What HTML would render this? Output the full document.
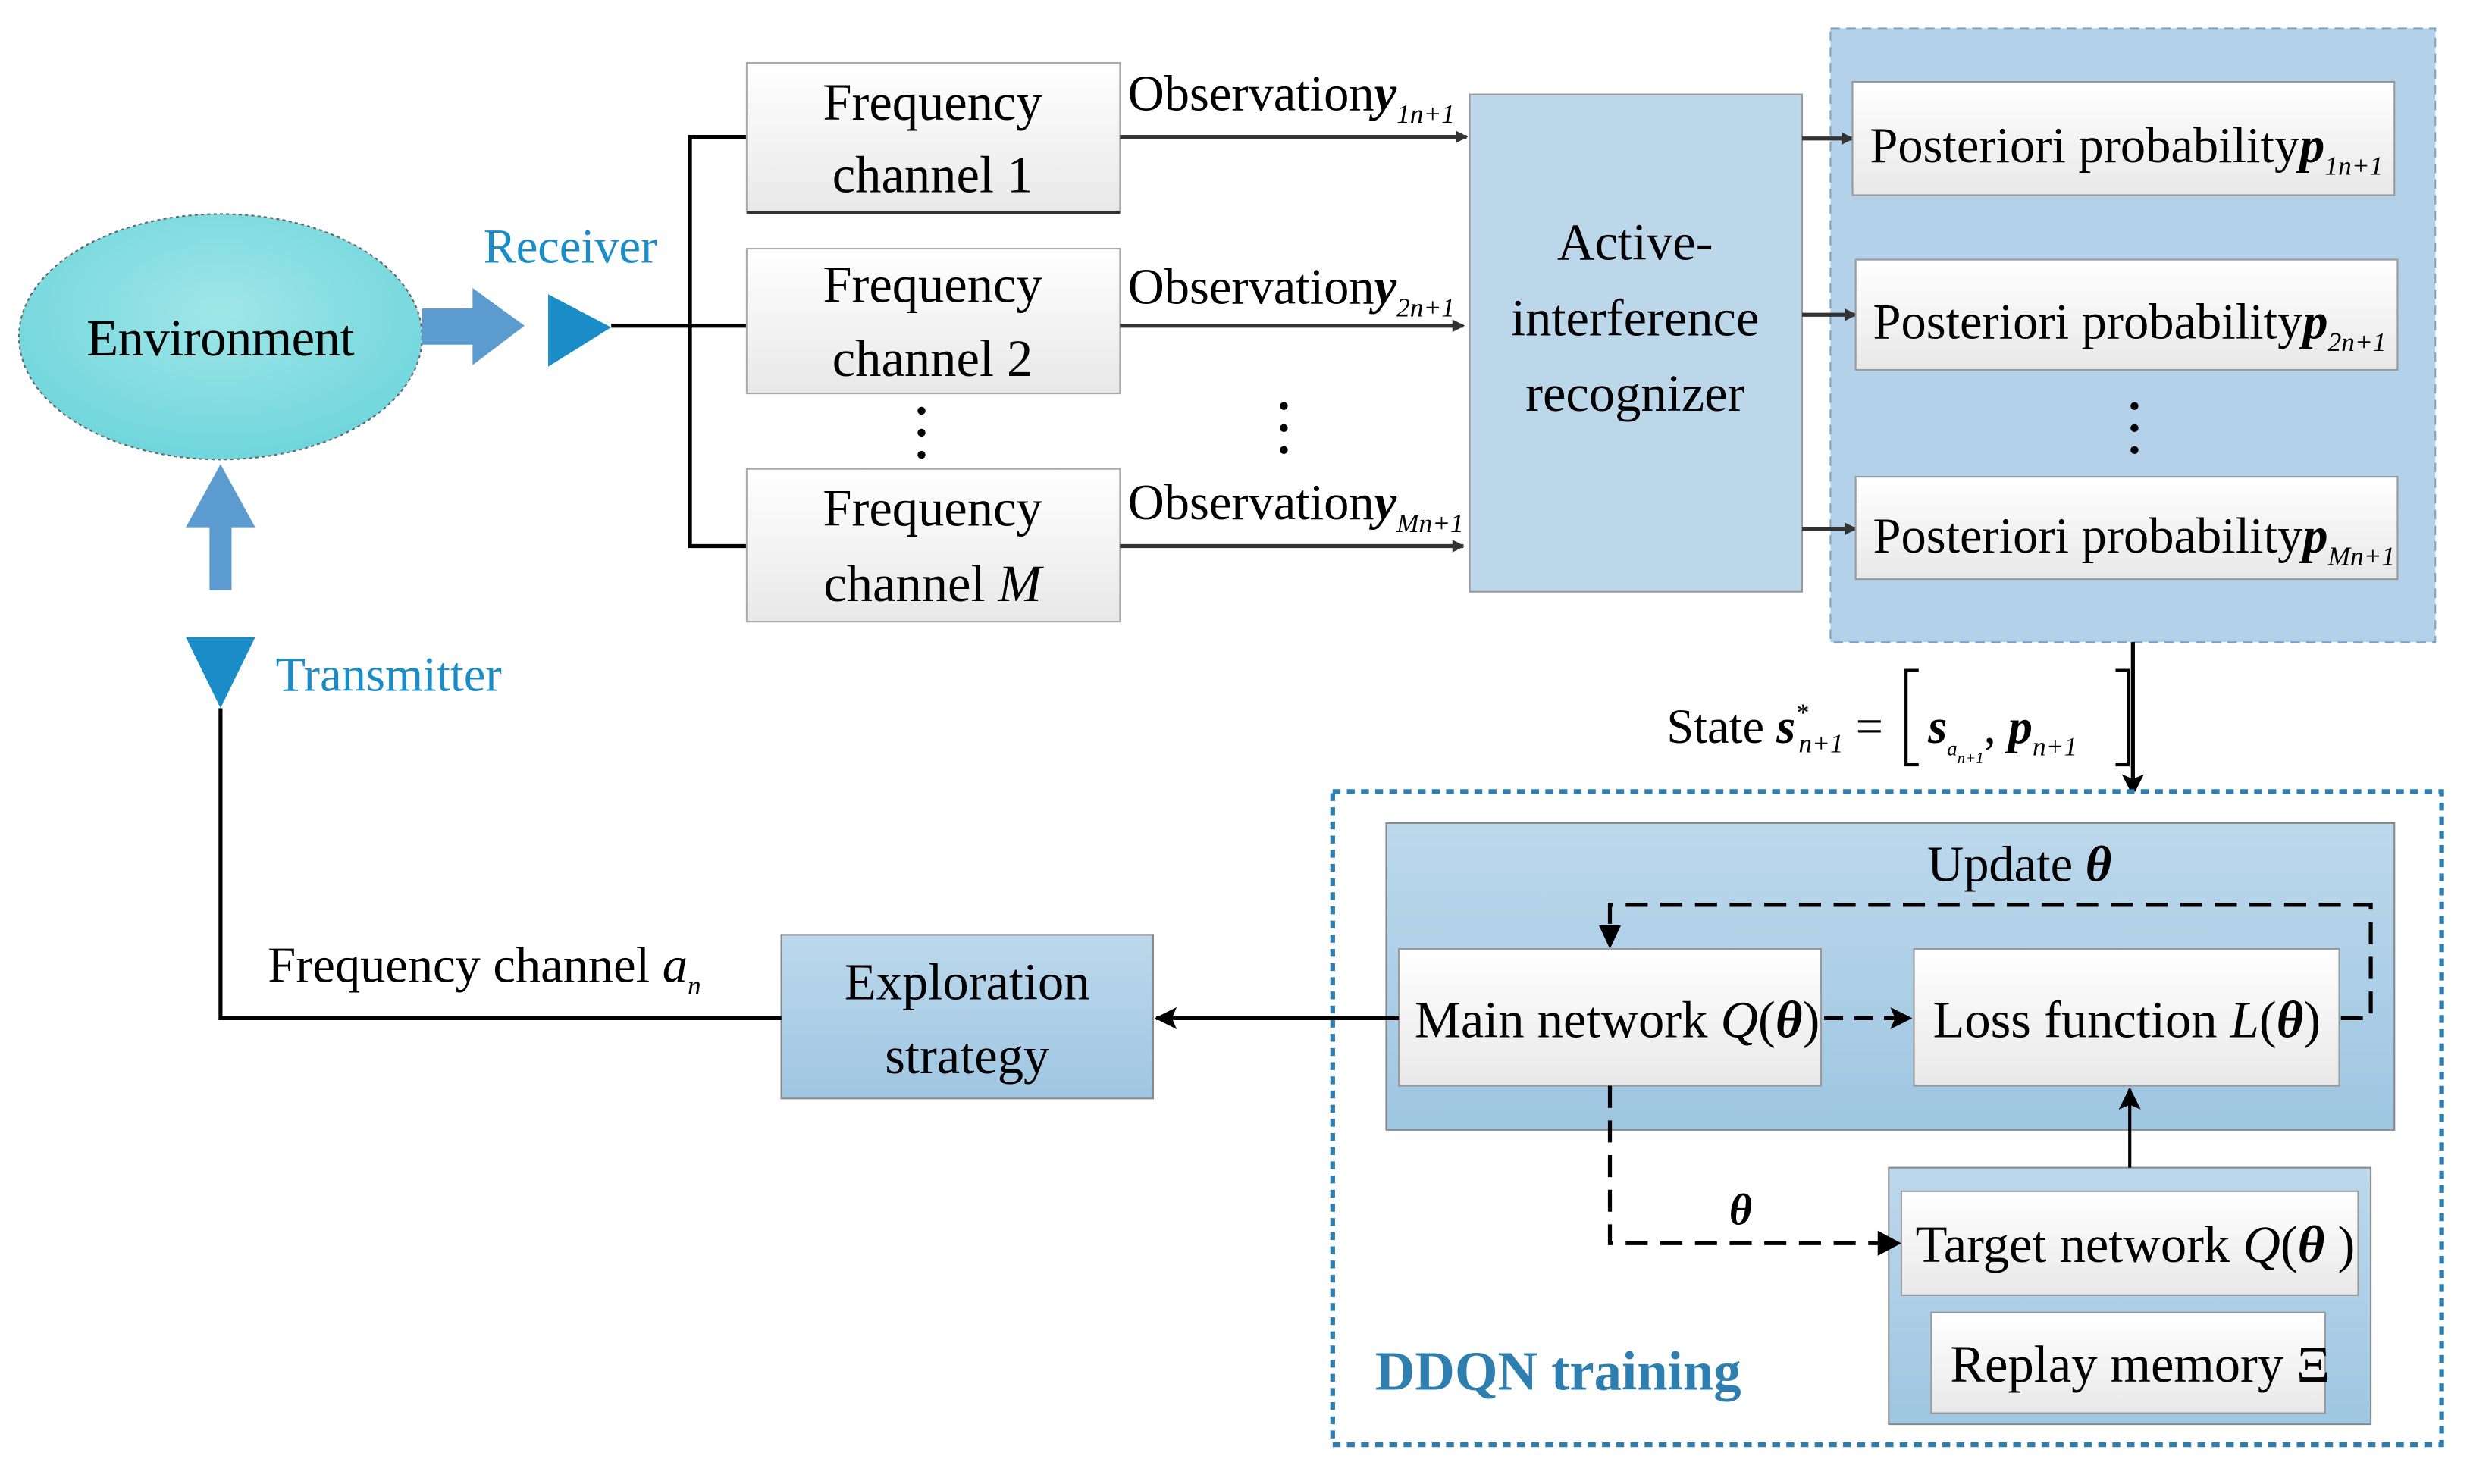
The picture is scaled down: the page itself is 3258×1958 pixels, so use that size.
<!DOCTYPE html>
<html><head><meta charset="utf-8"><style>html,body{margin:0;padding:0;background:#fff}svg{display:block;font-family:"Liberation Serif",serif}</style></head><body>
<svg width="3258" height="1958" viewBox="0 0 1568 943" preserveAspectRatio="none" xmlns="http://www.w3.org/2000/svg" style="font-family:'Liberation Serif',serif">
<defs>
<linearGradient id="gw" x1="0" y1="0" x2="0" y2="1"><stop offset="0" stop-color="#ffffff"/><stop offset="1" stop-color="#e8e8e8"/></linearGradient>
<linearGradient id="gb" x1="0" y1="0" x2="0" y2="1"><stop offset="0" stop-color="#bcd8ec"/><stop offset="1" stop-color="#9fc6e2"/></linearGradient>
<radialGradient id="ge" cx="0.5" cy="0.4" r="0.6"><stop offset="0" stop-color="#a0e6e8"/><stop offset="1" stop-color="#6fd6dc"/></radialGradient>
<marker id="ah" markerWidth="8" markerHeight="8" refX="7" refY="4" orient="auto" markerUnits="userSpaceOnUse"><path d="M0,0 L8,4 L0,8 Z" fill="#333"/></marker>
<marker id="ahk" markerWidth="14" markerHeight="14" refX="13" refY="7" orient="auto" markerUnits="userSpaceOnUse"><path d="M0,0 L14,7 L0,14 L3,7 Z" fill="#000"/></marker>
</defs>
<rect width="1568" height="943" fill="#fff"/>
<ellipse cx="140" cy="214" rx="128" ry="78" fill="url(#ge)" stroke="#666" stroke-dasharray="2,2"/>
<text x="140" y="226" font-size="33" text-anchor="middle" textLength="170">Environment</text>
<path d="M268,196 L300,196 L300,183 L333,207 L300,232 L300,219 L268,219 Z" fill="#5b9bd0"/>
<path d="M348,187 L388,208 L348,233 Z" fill="#1a8cc8"/>
<text x="362" y="167" font-size="31" fill="#1a8cc8" text-anchor="middle">Receiver</text>
<path d="M133,375 L133,335 L118,335 L140,295 L162,335 L147,335 L147,375 Z" fill="#5b9bd0"/>
<path d="M118,405 L162,405 L140,450 Z" fill="#1a8cc8"/>
<text x="175" y="439" font-size="31" fill="#1a8cc8">Transmitter</text>
<g stroke="#000" stroke-width="2.5" fill="none">
<path d="M388,207 L474,207"/><path d="M474,87 L438,87 L438,347 L474,347"/>
</g>
<g stroke="#aaa" fill="url(#gw)">
<rect x="474" y="40" width="237" height="95"/><rect x="474" y="158" width="237" height="92"/><rect x="474" y="298" width="237" height="97"/>
</g>
<line x1="474" y1="135" x2="711" y2="135" stroke="#333" stroke-width="2"/>
<g font-size="33" text-anchor="middle">
<text x="592" y="76">Frequency</text><text x="592" y="122">channel 1</text>
<text x="592" y="192">Frequency</text><text x="592" y="239">channel 2</text>
<text x="592" y="334">Frequency</text><text x="592" y="382">channel <tspan font-style="italic">M</tspan></text>
</g>
<g stroke="#333" stroke-width="2.5" marker-end="url(#ah)">
<line x1="711" y1="87" x2="931" y2="87"/><line x1="711" y1="207" x2="929" y2="207"/><line x1="711" y1="347" x2="929" y2="347"/>
</g>
<g font-size="32">
<text x="716" y="70">Observation<tspan font-style="italic" font-weight="bold">y</tspan><tspan font-size="17" font-style="italic" dy="8">1n+1</tspan></text>
<text x="716" y="193">Observation<tspan font-style="italic" font-weight="bold">y</tspan><tspan font-size="17" font-style="italic" dy="8">2n+1</tspan></text>
<text x="716" y="330">Observation<tspan font-style="italic" font-weight="bold">y</tspan><tspan font-size="17" font-style="italic" dy="8">Mn+1</tspan></text>
</g>
<rect x="933" y="60" width="211" height="316" fill="#bcd7ea" stroke="#999"/>
<g font-size="33" text-anchor="middle"><text x="1038" y="165">Active-</text><text x="1038" y="213">interference</text><text x="1038" y="261">recognizer</text></g>
<rect x="1162" y="18" width="384" height="390" fill="#b3d1e8" stroke="#7aa5c7" stroke-dasharray="6,4"/>
<g stroke="#333" stroke-width="2.5" marker-end="url(#ah)">
<line x1="1144" y1="88" x2="1176" y2="88"/><line x1="1144" y1="200" x2="1178" y2="200"/><line x1="1144" y1="336" x2="1178" y2="336"/>
</g>
<g stroke="#999" fill="url(#gw)">
<rect x="1176" y="52" width="344" height="72"/><rect x="1178" y="165" width="344" height="70"/><rect x="1178" y="303" width="344" height="65"/>
</g>
<g font-size="32">
<text x="1187" y="103">Posteriori probability<tspan font-style="italic" font-weight="bold">p</tspan><tspan font-size="17" font-style="italic" dy="8">1n+1</tspan></text>
<text x="1189" y="215">Posteriori probability<tspan font-style="italic" font-weight="bold">p</tspan><tspan font-size="17" font-style="italic" dy="8">2n+1</tspan></text>
<text x="1189" y="351">Posteriori probability<tspan font-style="italic" font-weight="bold">p</tspan><tspan font-size="17" font-style="italic" dy="8">Mn+1</tspan></text>
</g>
<g fill="#000"><circle cx="585" cy="261" r="2.5"/><circle cx="585" cy="275" r="2.5"/><circle cx="585" cy="289" r="2.5"/>
<circle cx="815" cy="258" r="2.5"/><circle cx="815" cy="272" r="2.5"/><circle cx="815" cy="286" r="2.5"/>
<circle cx="1355" cy="258" r="2.5"/><circle cx="1355" cy="272" r="2.5"/><circle cx="1355" cy="286" r="2.5"/></g>
<line x1="1354" y1="408" x2="1354" y2="505" stroke="#000" stroke-width="2.5" marker-end="url(#ahk)"/>
<g font-size="31">
<text x="1058" y="472">State <tspan font-style="italic" font-weight="bold">s</tspan><tspan font-size="16" font-style="italic" dy="-14">*</tspan><tspan font-size="17" font-style="italic" dy="20" dx="-6">n+1</tspan><tspan dy="-6"> = </tspan></text>
<text x="1224" y="472"><tspan font-style="italic" font-weight="bold">s</tspan><tspan font-size="13" font-style="italic" dy="8">a</tspan><tspan font-size="10" font-style="italic" dy="5">n+1</tspan><tspan dy="-13">, </tspan><tspan font-style="italic" font-weight="bold">p</tspan><tspan font-size="17" font-style="italic" dy="8">n+1</tspan></text>
</g>
<path d="M1218,426 L1210,426 L1210,486 L1218,486 M1343,426 L1351,426 L1351,486 L1343,486" stroke="#000" stroke-width="2" fill="none"/>
<rect x="846" y="503" width="704" height="415" fill="#fff" stroke="#2e7fb0" stroke-width="3" stroke-dasharray="5,4"/>
<rect x="880" y="523" width="640" height="195" fill="url(#gb)" stroke="#888"/>
<text x="1282" y="560" font-size="32" text-anchor="middle">Update <tspan font-style="italic" font-weight="bold">θ</tspan></text>
<path d="M1486,647 L1505,647 L1505,575 L1022,575 L1022,600" stroke="#000" stroke-width="2.5" fill="none" stroke-dasharray="14,8"/>
<path d="M1015,588 L1022,603 L1029,588 Z" fill="#000"/>
<rect x="888" y="603" width="268" height="87" fill="url(#gw)" stroke="#999"/>
<rect x="1215" y="603" width="270" height="87" fill="url(#gw)" stroke="#999"/>
<text x="898" y="659" font-size="33">Main network <tspan font-style="italic">Q</tspan>(<tspan font-style="italic" font-weight="bold">θ</tspan>)</text>
<text x="1227" y="659" font-size="33">Loss function  <tspan font-style="italic">L</tspan>(<tspan font-style="italic" font-weight="bold">θ</tspan>)</text>
<line x1="1158" y1="647" x2="1213" y2="647" stroke="#000" stroke-width="2.5" stroke-dasharray="12,7" marker-end="url(#ahk)"/>
<rect x="1199" y="742" width="306" height="163" fill="url(#gb)" stroke="#888"/>
<rect x="1207" y="757" width="290" height="66" fill="url(#gw)" stroke="#999"/>
<rect x="1226" y="834" width="250" height="64" fill="url(#gw)" stroke="#999"/>
<text x="1216" y="802" font-size="33">Target network <tspan font-style="italic">Q</tspan>(<tspan font-style="italic" font-weight="bold">θ</tspan> )</text>
<text x="1238" y="878" font-size="33">Replay memory Ξ</text>
<line x1="1352" y1="742" x2="1352" y2="692" stroke="#000" stroke-width="2" marker-end="url(#ahk)"/>
<path d="M1022,690 L1022,790 L1195,790" stroke="#000" stroke-width="2.5" fill="none" stroke-dasharray="14,8"/>
<path d="M1192,782 L1207,790 L1192,798 Z" fill="#000"/>
<text x="1105" y="778" font-size="28" font-style="italic" font-weight="bold" text-anchor="middle">θ</text>
<text x="873" y="883" font-size="35" font-weight="bold" fill="#2e7fb0">DDQN training</text>
<line x1="888" y1="647" x2="734" y2="647" stroke="#000" stroke-width="2.5" marker-end="url(#ahk)"/>
<rect x="496" y="594" width="236" height="104" fill="url(#gb)" stroke="#888"/>
<g font-size="33" text-anchor="middle"><text x="614" y="635">Exploration</text><text x="614" y="682">strategy</text></g>
<path d="M496,647 L140,647 L140,450" stroke="#000" stroke-width="2.5" fill="none"/>
<text x="170" y="624" font-size="32">Frequency channel <tspan font-style="italic">a</tspan><tspan font-size="17" font-style="italic" dy="8">n</tspan></text>
</svg>
</body></html>
